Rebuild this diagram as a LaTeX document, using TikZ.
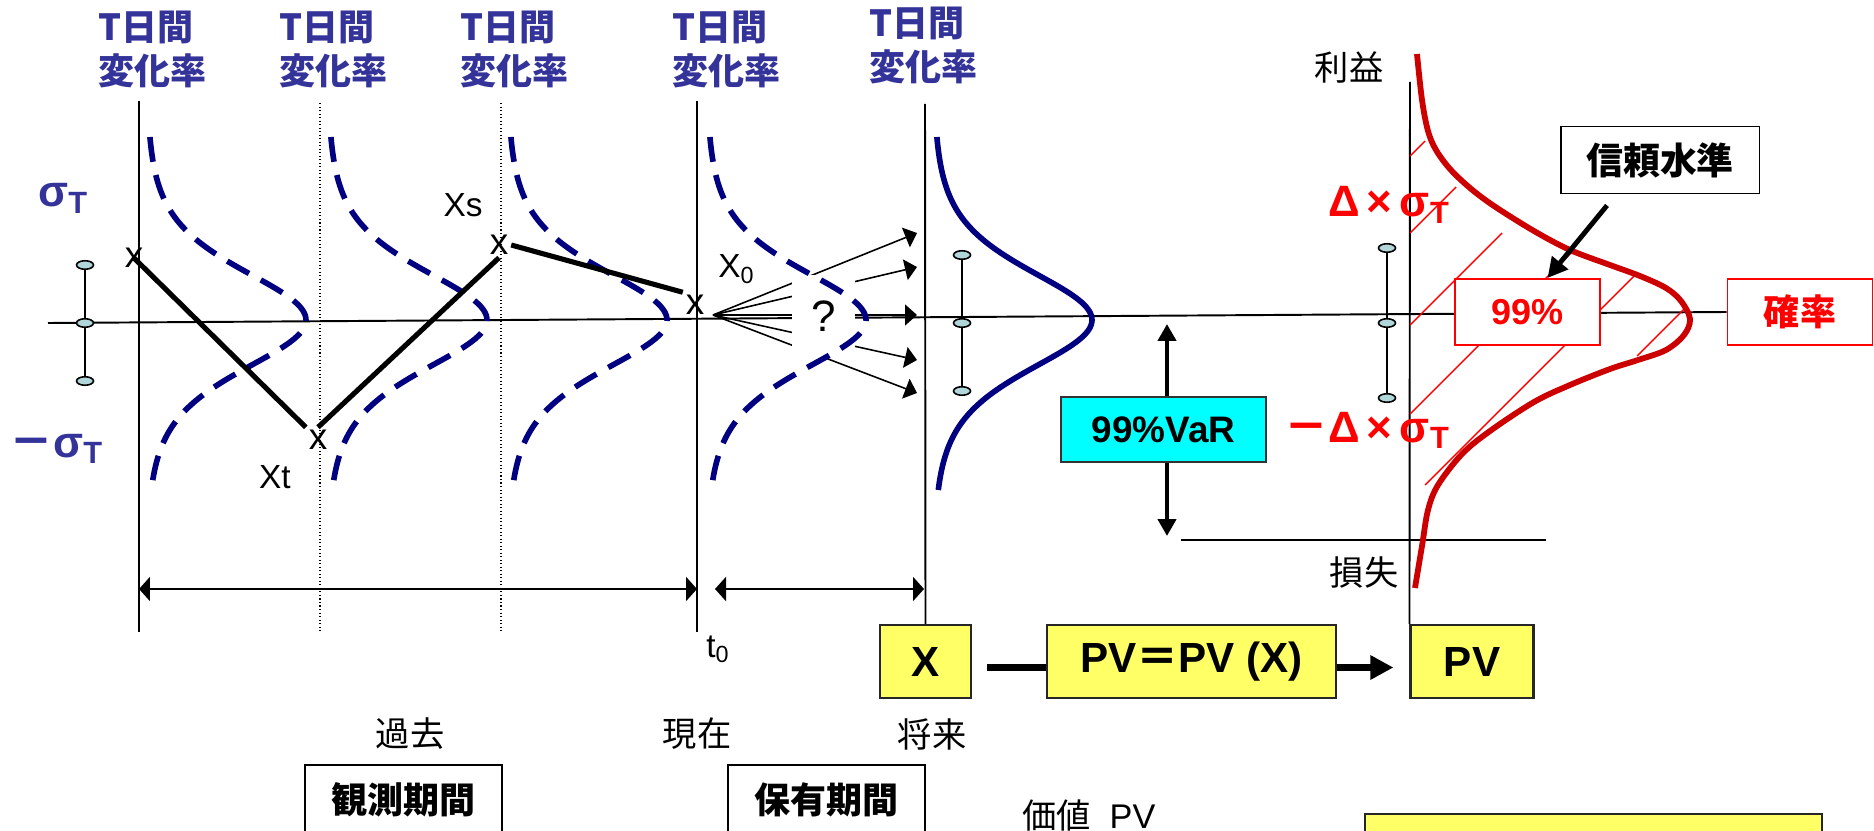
\documentclass[tikz,border=0pt]{standalone}
\usepackage{fontspec}
\setmainfont{Liberation Sans}
\newfontfamily\jp{Noto Sans CJK JP}
\usetikzlibrary{arrows.meta,calc}

\definecolor{lblblue}{RGB}{51,51,153}
\definecolor{densblue}{RGB}{0,0,128}
\definecolor{densred}{RGB}{204,0,0}
\definecolor{boxyellow}{RGB}{255,255,102}
\definecolor{varcyan}{RGB}{0,255,255}
\definecolor{barfill}{RGB}{176,214,218}

\tikzstyle{every node}=[inner sep=0pt]
\tikzstyle{period}=[text=lblblue,font=\jp\bfseries\fontsize{20.5}{25}\selectfont,align=left,anchor=north west]
\tikzstyle{bluesig}=[text=lblblue,font=\bfseries\fontsize{25}{30}\selectfont,anchor=base west]
\tikzstyle{redsig}=[text=red,font=\bfseries\fontsize{25}{30}\selectfont,anchor=base east]
\tikzstyle{word}=[font=\jp\fontsize{19.5}{22}\selectfont]
\tikzstyle{xmark}=[font=\fontsize{21}{22}\selectfont,inner sep=1.5pt]
\tikzstyle{xname}=[font=\fontsize{19}{22}\selectfont]
\tikzstyle{ybox}=[draw=black!85,fill=boxyellow,line width=1.2pt,minimum height=1.46cm,font=\bfseries\fontsize{24}{28}\selectfont]
\tikzstyle{wbox}=[draw=black,fill=white,line width=1.1pt,minimum width=3.94cm,minimum height=1.4cm,font=\jp\bfseries\fontsize{20.5}{24}\selectfont]
\tikzstyle{rbox}=[draw=red,fill=white,line width=1.1pt,text=red,minimum width=2.9cm,minimum height=1.32cm,font=\bfseries\fontsize{20.5}{24}\selectfont]
\tikzstyle{rule}=[line width=1.1pt]
\tikzstyle{dotrule}=[line width=0.6pt,dash pattern=on 0.6pt off 1.4pt]
\tikzstyle{dashcurve}=[densblue,line width=3.2pt,dash pattern=on 0.5cm off 0.27cm]
\tikzstyle{solidcurve}=[densblue,line width=3.2pt]
\tikzstyle{redcurve}=[densred,line width=3.3pt]
\tikzstyle{hatch}=[red,line width=0.8pt]
\tikzstyle{walk}=[line width=2.9pt]
\tikzstyle{fan}=[line width=0.9pt,-{Triangle[length=0.24cm,width=0.42cm]}]
\tikzstyle{span}=[line width=1.4pt,{Triangle[length=0.22cm,width=0.48cm]}-{Triangle[length=0.22cm,width=0.48cm]}]
\tikzstyle{vararrow}=[line width=2.8pt,{Triangle[length=0.34cm,width=0.36cm]}-{Triangle[length=0.34cm,width=0.36cm]}]
\tikzstyle{callout}=[line width=2.8pt,-{Triangle[length=0.4cm,width=0.4cm]}]
\tikzstyle{fat}=[line width=4.5pt]

\begin{document}
\begin{tikzpicture}[x=0.02cm,y=-0.02cm]
  \useasboundingbox (0,0) rectangle (1874,831);
  \clip (0,0) rectangle (1874,831);

  % axes and time lines
  \coordinate (axL) at (48,323);
  \node[rbox,font=\jp\bfseries\fontsize{20.5}{24}\selectfont] (prob) at (1800,312) {確率};
  \draw[rule] (axL) -- (prob.west);
  \foreach \vx in {139,697} \draw[rule] (\vx,101) -- (\vx,632);
  \foreach \vx in {320,501} \draw[dotrule] (\vx,103) -- (\vx,633);
  \coordinate (lossL) at (1181,540);
  \coordinate (lossR) at (1546,540);
  \draw[rule] (lossL) -- (lossR);

  % X -> PV
  \node[ybox,minimum width=1.82cm] (xbox) at (925.5,661.5) {X};
  \node[ybox,minimum width=5.78cm] (pvf) at (1191.5,661.5) {PV{\jp ＝}PV (X)};
  \node[ybox,minimum width=2.46cm] (pv) at (1472,661.5) {PV};
  \draw[rule] (925,104) -- (xbox.north);
  \draw[rule] (1410,82) -- (pv.north west);
  \draw[fat] ([xshift=0.3cm,yshift=-0.12cm]xbox.east) -- ([yshift=-0.12cm]pvf.west);
  \draw[fat,-{Triangle[length=0.46cm,width=0.46cm]}] ([yshift=-0.12cm]pvf.east) -- ([xshift=-0.32cm,yshift=-0.12cm]pv.west);

  % periods
  \coordinate (obsL) at (139,589);
  \coordinate (obsR) at (697,589);
  \coordinate (holdL) at (715,589);
  \coordinate (holdR) at (924,589);
  \draw[span] (obsL) -- (obsR);
  \draw[span] (holdL) -- (holdR);

  % fan of futures
  \coordinate (fan0) at (713,315);
  \foreach \ty [count=\i] in {233,267,315,360,393} {
    \coordinate (tip\i) at (917,\ty);
    \draw[fan] (fan0) -- (tip\i);
  }
  \node[fill=white,minimum width=1.26cm,minimum height=1.64cm,font=\fontsize{25}{28}\selectfont] (ask) at (823.5,316) {?};

  % densities
  \foreach \base in {146,327,507,706}
    \draw[dashcurve] plot[domain=137:490,samples=80,smooth] ({\base+160/(1+((\x-320)/117)^2)^3},\x);
  \draw[solidcurve] plot[domain=137:490,samples=80,smooth] ({933+159/(1+((\x-320)/117)^2)^3},\x);

  \foreach \bx/\bh in {85/58,962/68,1387/75} {
    \draw[rule] (\bx,323-\bh) -- (\bx,323+\bh);
    \foreach \k in {-1,0,1}
      \draw[line width=0.9pt,fill=barfill] (\bx,323+\k*\bh) ellipse [x radius=0.17cm,y radius=0.085cm];
  }

  % observed path
  \foreach \mx/\my [count=\i] in {134/258,318/440,499/245,695/305}
    \node[xmark] (m\i) at (\mx,\my) {x};
  \draw[walk] (m1.center) -- (m2.north west);
  \draw[walk] (m2.north) -- (m3.south);
  \draw[walk] (m3.east) -- (m4.north west);
  \node[xname] (xs) at (463,205) {Xs};
  \node[xname] (xt) at (275,477) {Xt};
  \node[xname,anchor=base west] (x0) at (718,278) {X\textsubscript{0}};
  \node[xname,anchor=base west] (t0) at (706,657) {t\textsubscript{0}};

  % labels
  \foreach \px/\py [count=\i] in {98/11,279/11,460/11,672/11,869/7}
    \node[period] (per\i) at (\px,\py) {T日間\\変化率};
  \node[bluesig] (sigup) at (38,207) {σ\textsubscript{T}};
  \node[bluesig] (sigdn) at (9,457) {{\jp －}σ\textsubscript{T}};
  \node[word] (past) at (410,734) {過去};
  \node[word] (now) at (697,734) {現在};
  \node[word] (future) at (932,734) {将来};
  \node[word] (gain) at (1349,67) {利益};
  \node[word] (loss) at (1364,572) {損失};
  \node[word,anchor=west] (value) at (1022,815) {価値\hspace{0.55em}{\rmfamily PV}};
  \node[wbox] (obs) at (403.5,800) {観測期間};
  \node[wbox] (hold) at (826.5,800) {保有期間};
  \draw[ybox] (1365,814) rectangle (1822,875);

  % VaR
  \coordinate (varTop) at (1167,324);
  \coordinate (varBot) at (1167,536);
  \draw[vararrow] (varBot) -- (varTop);
  \node[draw=black!80,fill=varcyan,line width=1.2pt,minimum width=4.1cm,minimum height=1.3cm,font=\bfseries\fontsize{21}{24}\selectfont] (var) at (1163.5,429.5) {99\%VaR};

  % profit and loss distribution
  \foreach \hx/\hy/\kx/\ky in {1410/156/1425/141,1410/233/1456/187,1410/325/1502/233,1410/414/1572/252,1425/485/1634/276,1637/356/1684/309}
    \draw[hatch] (\hx,\hy) -- (\kx,\ky);
  \draw[redcurve] plot[smooth,tension=0.55] coordinates {(1417,54) (1422,100) (1428,131) (1436,150) (1450,169) (1470,188) (1494,206) (1534,231) (1570,250) (1610,265) (1640,276) (1666,288) (1681,301) (1690,319) (1684,335) (1666,350) (1638,360) (1610,369) (1570,385) (1534,402) (1490,431) (1462,454) (1438,485) (1428,510) (1422,546) (1415,588)};
  \node[redsig] (dsigup) at (1450,217) {Δ\,×\,σ\textsubscript{T}};
  \node[redsig] (dsigdn) at (1450,442) {{\jp －}Δ\,×\,σ\textsubscript{T}};
  \node[rbox] (pct) at (1527.5,312) {99\%};
  \node[wbox,minimum width=3.98cm,minimum height=1.34cm,font=\jp\bfseries\fontsize{21}{24}\selectfont] (conf) at (1660,160) {信頼水準};
  \draw[callout] ($(conf.south)+(-53,11)$) -- ($(pct.north)+(20,0)$);
\end{tikzpicture}
\end{document}
